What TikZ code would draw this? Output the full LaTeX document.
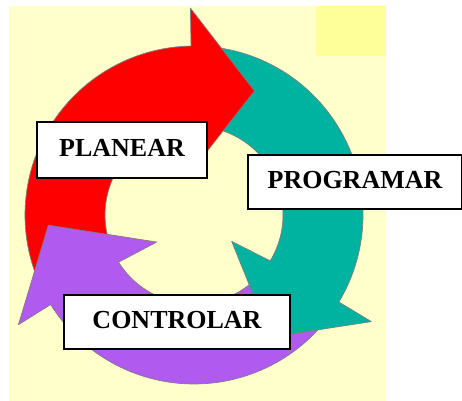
\documentclass[tikz,border=0pt]{standalone}
\usepackage{fontspec}
\setmainfont{Liberation Serif}
\usetikzlibrary{calc}

\definecolor{bgyellow}{RGB}{255,255,204}
\definecolor{patchyellow}{RGB}{255,255,153}
\definecolor{arrowred}{RGB}{255,0,0}
\definecolor{arrowteal}{RGB}{0,178,160}
\definecolor{arrowpurple}{RGB}{176,90,240}
\definecolor{edgegray}{RGB}{125,125,125}

\tikzset{
  arrowedge/.style={draw=edgegray, line width=0.5pt, line join=round},
  labelbox/.style={draw=black, fill=white, line width=1.3pt, inner sep=0pt,
    text depth=3pt, font=\fontsize{19.5}{22}\selectfont\bfseries},
}

% ring segment between radii 89 and 169 (outer radius 126.75pt, inner 66.75pt)
% #1 colour, #2 tail angle, #3 angle where the head starts (arrows run clockwise);
% the fill runs a little under the head so no seam shows at the joint
\newcommand\ringbody[3]{%
  \pgfmathsetmacro\fillend{#3-1.5}%
  \fill[#1] ($(c)+(#2:169)$) arc[start angle=#2, end angle=\fillend, radius=126.75pt]
    -- ($(c)+(\fillend:89)$) arc[start angle=\fillend, end angle=#2, radius=66.75pt] -- cycle;
  \draw[arrowedge] ($(c)+(#2:169)$) arc[start angle=#2, end angle=#3, radius=126.75pt];
  \draw[arrowedge] ($(c)+(#3:89)$) arc[start angle=#3, end angle=#2, radius=66.75pt];
}
% arrow head: #1 colour, #2 base angle, #3 tip angle, #4 tip radius, #5 inner barb angle
\newcommand\ringhead[5]{%
  \fill[#1] ($(c)+(#2:169)$) -- ($(c)+(#2:207)$) -- ($(c)+(#3:#4)$)
    -- ($(c)+(#5:46)$) -- ($(c)+(#2:89)$) -- cycle;
  \draw[arrowedge] ($(c)+(#2:169)$) -- ($(c)+(#2:207)$) -- ($(c)+(#3:#4)$)
    -- ($(c)+(#5:46)$) -- ($(c)+(#2:89)$);
}

\begin{document}
\begin{tikzpicture}[x=0.75pt, y=0.75pt]
  \useasboundingbox (0,0) rectangle (462,401);
  % backdrop
  \fill[bgyellow] (9.5,0) rectangle (386,395);
  \fill[patchyellow] (316.5,344.5) rectangle (386,395);

  \coordinate (c) at (194,186);

  % bodies of the three cycle arrows
  \ringbody{arrowred}{205}{91}
  \ringbody{arrowteal}{85}{-31}
  \ringbody{arrowpurple}{325}{212}

  % heads, each lying over the tail of the next arrow
  \ringhead{arrowred}{91}{64}{138}{91}
  \ringhead{arrowteal}{-31}{-58}{144}{-35}
  \ringhead{arrowpurple}{212}{184}{146}{216}

  % labels
  \node[labelbox, minimum width=127.5pt, minimum height=42pt] (planear) at (122,251) {PLANEAR};
  \node[labelbox, minimum width=160.5pt, minimum height=40.5pt] (programar) at (355,219) {PROGRAMAR};
  \node[labelbox, minimum width=169.5pt, minimum height=40.5pt] (controlar) at (177,79) {CONTROLAR};
\end{tikzpicture}
\end{document}
